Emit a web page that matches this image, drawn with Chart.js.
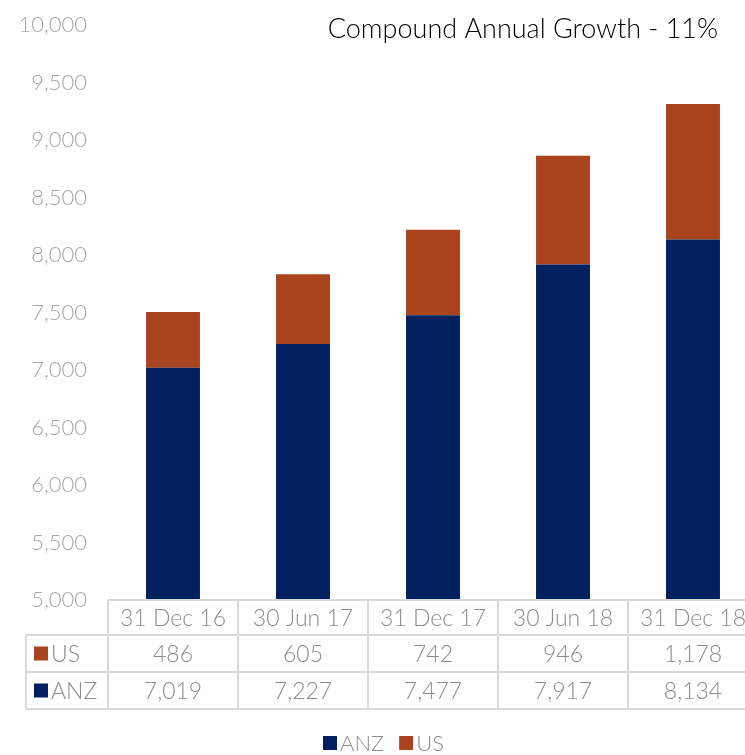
<!DOCTYPE html>
<html lang="en">
<head>
    <meta charset="UTF-8">
    <title>Compound Annual Growth</title>
    <script src="https://cdn.jsdelivr.net/npm/chart.js"></script>
    <style>
        body {
            margin: 0;
            overflow: hidden;
            background: #ffffff;
        }
        .chart-container {
            width: 758px;
            height: 755px;
        }
    </style>
</head>
<body>
<div class="chart-container">
    <canvas id="growthChart" width="758" height="755"></canvas>
</div>

<script>
    // data
    const categories = ['31 Dec 16', '30 Jun 17', '31 Dec 17', '30 Jun 18', '31 Dec 18'];
    const anzValues = [7019, 7227, 7477, 7917, 8134];
    const usValues = [486, 605, 742, 946, 1178];
    const yMin = 5000;
    const yMax = 10000;
    const yStep = 500;
    const titleText = 'Compound Annual Growth - 11%';

    const ANZ_COLOR = '#002060';
    const US_COLOR = '#A9441F';
    const FONT = 'Lato, "Open Sans", sans-serif';
    const GREY_TEXT = '#8c8c8c';
    const LINE = '#d9d9d9';

    const fmt = v => v.toLocaleString('en-US');

    // title, data table and legend drawn under the plot
    const extrasPlugin = {
        id: 'extras',
        afterDraw(chart) {
            const ctx = chart.ctx;
            const area = chart.chartArea;
            const x = chart.scales.x;
            const n = categories.length;
            const colW = (area.right - area.left) / n;

            ctx.save();

            // title
            ctx.fillStyle = '#000000';
            ctx.font = '300 27px ' + FONT;
            ctx.textAlign = 'right';
            ctx.textBaseline = 'middle';
            ctx.fillText(titleText, area.right - 40, area.top + 4);

            // table grid
            const top = area.bottom;
            const rowH = [35, 37, 37];
            const r1 = top + rowH[0];
            const r2 = r1 + rowH[1];
            const r3 = r2 + rowH[2];
            const leftCol = 26;

            ctx.strokeStyle = LINE;
            ctx.lineWidth = 2;
            ctx.beginPath();
            ctx.moveTo(area.left, top); ctx.lineTo(area.right, top);
            [r1, r2, r3].forEach(y => { ctx.moveTo(leftCol, y); ctx.lineTo(area.right, y); });
            ctx.moveTo(leftCol, r1); ctx.lineTo(leftCol, r3);
            for (let i = 0; i <= n; i++) {
                const gx = area.left + i * colW;
                ctx.moveTo(gx, top); ctx.lineTo(gx, r3);
            }
            ctx.stroke();

            // table text
            ctx.fillStyle = GREY_TEXT;
            ctx.textAlign = 'center';
            ctx.font = '300 23px ' + FONT;
            categories.forEach((c, i) => {
                const cx = x.getPixelForValue(i);
                ctx.fillText(c, cx, top + rowH[0] / 2 + 1);
                ctx.fillText(fmt(usValues[i]), cx, r1 + rowH[1] / 2 + 1);
                ctx.fillText(fmt(anzValues[i]), cx, r2 + rowH[2] / 2 + 1);
            });

            // row labels with swatches
            const rows = [['US', US_COLOR, r1 + rowH[1] / 2], ['ANZ', ANZ_COLOR, r2 + rowH[2] / 2]];
            ctx.textAlign = 'left';
            rows.forEach(([label, color, cy]) => {
                ctx.fillStyle = color;
                ctx.fillRect(34, cy - 7, 14, 14);
                ctx.fillStyle = GREY_TEXT;
                ctx.fillText(label, 51, cy + 1);
            });

            // legend
            ctx.font = '300 22px ' + FONT;
            const items = [['ANZ', ANZ_COLOR], ['US', US_COLOR]];
            const widths = items.map(([t]) => 14 + 3 + ctx.measureText(t).width);
            const gap = 15;
            let lx = 323;
            const ly = 743;
            items.forEach(([t, color], i) => {
                ctx.fillStyle = color;
                ctx.fillRect(lx, ly - 7, 14, 14);
                ctx.fillStyle = GREY_TEXT;
                ctx.fillText(t, lx + 17, ly + 1);
                lx += widths[i] + gap;
            });

            ctx.restore();
        }
    };

    const ctx = document.getElementById('growthChart').getContext('2d');
    new Chart(ctx, {
        type: 'bar',
        data: {
            labels: categories,
            datasets: [
                {
                    label: 'ANZ',
                    data: anzValues,
                    backgroundColor: ANZ_COLOR,
                    barPercentage: 0.415,
                    categoryPercentage: 1
                },
                {
                    label: 'US',
                    data: usValues,
                    backgroundColor: US_COLOR,
                    barPercentage: 0.415,
                    categoryPercentage: 1
                }
            ]
        },
        options: {
            responsive: false,
            animation: false,
            layout: {
                padding: { top: 25, right: 0, left: 0, bottom: 0 }
            },
            plugins: {
                legend: { display: false },
                tooltip: { enabled: false }
            },
            scales: {
                x: {
                    stacked: true,
                    grid: { display: false },
                    border: { display: false },
                    ticks: { display: false },
                    afterFit(scale) { scale.height = 155; }
                },
                y: {
                    stacked: true,
                    min: yMin,
                    max: yMax,
                    // invisible tick marks give the label gap without extra top padding
                    grid: {
                        display: true,
                        drawOnChartArea: false,
                        drawTicks: true,
                        tickLength: 21,
                        color: 'rgba(0,0,0,0)'
                    },
                    border: { display: false },
                    ticks: {
                        stepSize: yStep,
                        color: '#a6a6a6',
                        padding: 0,
                        font: { family: FONT, size: 22, weight: 300 },
                        callback: v => fmt(v)
                    },
                    afterFit(scale) { scale.width = 108; }
                }
            }
        },
        plugins: [extrasPlugin]
    });
</script>
</body>
</html>
